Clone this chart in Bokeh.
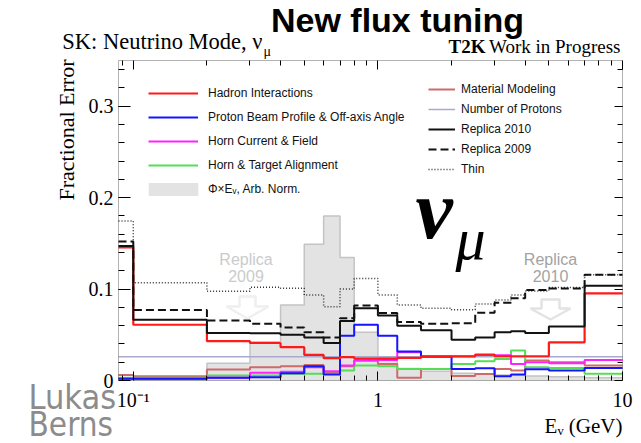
import numpy as np
from bokeh.plotting import figure
from bokeh.models import (Range1d, FixedTicker, LogAxis, LinearAxis, BoxAnnotation,
                          CustomJSTickFormatter, Label, Legend, LegendItem, PolyAnnotation)
from bokeh.embed import file_html
from bokeh.resources import INLINE

# ---- flux binning (GeV) ----
edges = [0.0, 0.1, 0.2, 0.3, 0.4, 0.5, 0.6, 0.7, 0.8, 1.0, 1.2, 1.5,
         2.0, 2.5, 3.0, 3.5, 4.0, 5.0, 7.0, 10.0]

# ---- fractional errors per bin ----
hadron = [0.1455, 0.061, 0.043, 0.041, 0.0364, 0.028, 0.0244, 0.0255, 0.024, 0.024,
          0.0247, 0.026, 0.0265, 0.0284, 0.0265, 0.0265, 0.0265, 0.0418, 0.0953]
proton_beam = [0.002, 0.002, 0.003, 0.0036, 0.008, 0.0156, 0.0065, 0.049, 0.061, 0.049,
               0.0316, 0.0262, 0.0125, 0.0134, 0.0047, 0.0065, 0.0124, 0.011, 0.0138]
horn_current = [0.002, 0.002, 0.003, 0.0085, 0.0095, 0.0145, 0.010, 0.0164, 0.0218, 0.0225,
                0.0309, 0.0262, 0.0262, 0.028, 0.0275, 0.018, 0.020, 0.019, 0.0225]
alignment = [0.003, 0.003, 0.0055, 0.0055, 0.0073, 0.0075, 0.0073, 0.0109, 0.0164, 0.0156,
             0.0127, 0.0127, 0.018, 0.021, 0.0236, 0.0327, 0.0145, 0.0138, 0.0075]
material = [0.006, 0.0047, 0.012, 0.0145, 0.0156, 0.017, 0.0084, 0.0156, 0.0218, 0.018,
            0.003, 0.0127, 0.005, 0.007, 0.0127, 0.011, 0.022, 0.020, 0.0164]
n_protons = [0.026] * 19
replica_2010 = [0.147, 0.0665, 0.052, 0.0516, 0.050, 0.047, 0.041, 0.065, 0.079, 0.071,
                0.060, 0.055, 0.0445, 0.047, 0.0527, 0.054, 0.052, 0.059, 0.1036]
replica_2009 = [0.152, 0.077, 0.0655, 0.062, 0.058, 0.0527, 0.047, 0.068, 0.082, 0.0738,
                0.064, 0.062, 0.0625, 0.074, 0.085, 0.090, 0.099, 0.1007, 0.1156]
thin = [0.1745, 0.107, 0.0975, 0.102, 0.101, 0.0935, 0.0807, 0.100, 0.1116, 0.0935,
        0.0826, 0.079, 0.0775, 0.0836, 0.088, 0.0935, 0.098, 0.1018, 0.1156]
flux_shape = [0.003, 0.001, 0.019, 0.0425, 0.0826, 0.149, 0.18, 0.1345, 0.0527, 0.0255,
              0.013, 0.010, 0.008, 0.007, 0.006, 0.006, 0.005, 0.004, 0.003]

x_major = [0.1, 1.0, 10.0]
x_minor = [0.09, 0.2, 0.3, 0.4, 0.5, 0.6, 0.7, 0.8, 0.9, 2, 3, 4, 5, 6, 7, 8, 9]
x_tick_labels = ["10\u207b\u00b9", "1", "10"]
y_major = [0.0, 0.1, 0.2, 0.3]
y_tick_labels = ["0", "0.1", "0.2", "0.3"]

X_MIN, X_MAX = 0.087, 10.0
Y_MIN, Y_MAX = 0.0, 0.35
W, H = 641, 443
FL, FR, FT, FB = 118, 622, 60, 380   # data box inside the canvas, pixels

SERIF = "Liberation Serif"
SANS = "Liberation Sans"

# The plot frame covers the whole canvas; the data box sits inside it with
# the axes pinned to its edges, so texts outside the box are not clipped.
dec_per_px = (np.log10(X_MAX) - np.log10(X_MIN)) / (FR - FL)
x_lo = 10 ** (np.log10(X_MIN) - FL * dec_per_px)
x_hi = 10 ** (np.log10(X_MAX) + (W - FR) * dec_per_px)
y_per_px = (Y_MAX - Y_MIN) / (FB - FT)
y_lo = Y_MIN - (H - FB) * y_per_px
y_hi = Y_MAX + FT * y_per_px

p = figure(width=W, height=H, x_axis_type="log",
           x_range=Range1d(x_lo, x_hi), y_range=Range1d(y_lo, y_hi),
           output_backend="svg", toolbar_location=None,
           min_border=0, min_border_left=0, min_border_right=0,
           min_border_top=0, min_border_bottom=0)
p.xgrid.visible = False
p.ygrid.visible = False
p.background_fill_color = "white"
p.border_fill_color = "white"
p.outline_line_color = None

xe = np.clip(np.array(edges), X_MIN, None)


def step_xy(vals):
    return list(xe), list(vals) + [vals[-1]]


# flux shape, filled
fx, fy = step_xy(flux_shape)
r_flux = p.varea_step(x=fx, y1=[0] * len(fx), y2=fy, step_mode="after",
                      fill_color="#e3e3e3")
p.step(x=fx, y=fy, mode="after", line_color="#c4c4c4", line_width=1.5)

renderers = {}


def draw(name, vals, color, width=2.0, dash="solid"):
    x, y = step_xy(vals)
    r = p.step(x=x, y=y, mode="after", line_color=color, line_width=width, line_dash=dash)
    renderers[name] = r
    return r


draw("protons", n_protons, "#a9a9d0", 1.5)
draw("material", material, "#cd6b6b", 2.0)
draw("align", alignment, "#55dd55", 2.0)
draw("horn", horn_current, "#ff22ff", 2.0)
draw("beam", proton_beam, "#1515ff", 2.0)
draw("hadron", hadron, "#ff1a1a", 2.2)
draw("thin", thin, "#333333", 1.5, "1 2")
draw("r2009", replica_2009, "#111111", 2.0, "8 4")
draw("r2010", replica_2010, "#111111", 2.0)

# data box outline
p.add_layout(BoxAnnotation(left=X_MIN, right=X_MAX, bottom=Y_MIN, top=Y_MAX,
                           fill_alpha=0, line_color="black", line_width=1, level="overlay"))

# ---- axes pinned to the box ----
x_ticker = FixedTicker(ticks=x_major, minor_ticks=x_minor)
y_ticker = FixedTicker(ticks=y_major, minor_ticks=[round(0.02 * i, 2) for i in range(1, 18)])

xfmt = CustomJSTickFormatter(args=dict(tv=x_major, labs=x_tick_labels), code="""
    let best = 0;
    for (let i = 0; i < tv.length; i++)
        if (Math.abs(Math.log10(tick) - Math.log10(tv[i])) < 0.01) best = i;
    return labs[best];
""")
yfmt = CustomJSTickFormatter(args=dict(tv=y_major, labs=y_tick_labels), code="""
    let best = 0;
    for (let i = 0; i < tv.length; i++)
        if (Math.abs(tick - tv[i]) < 1e-6) best = i;
    return labs[best];
""")
blank = CustomJSTickFormatter(code="return '';")

xa = p.xaxis[0]
xa.ticker = x_ticker
xa.formatter = xfmt
xa.fixed_location = Y_MIN
ya = p.yaxis[0]
ya.ticker = y_ticker
ya.formatter = yfmt
ya.fixed_location = X_MIN

xa.major_tick_in, xa.major_tick_out = 9, 0
xa.minor_tick_in, xa.minor_tick_out = 5, 0
xa.major_label_standoff = 8
ya.major_tick_in, ya.major_tick_out = 12, 0
ya.minor_tick_in, ya.minor_tick_out = 6, 0
ya.major_label_standoff = 5
for ax in (xa, ya):
    ax.axis_line_color = None
    ax.major_tick_line_color = "black"
    ax.minor_tick_line_color = "black"
    ax.major_label_text_font = SERIF
    ax.major_label_text_font_size = "20px"
    ax.major_label_text_color = "black"

top = LogAxis(ticker=x_ticker, formatter=blank, fixed_location=Y_MAX)
right = LinearAxis(ticker=y_ticker, formatter=blank, fixed_location=X_MAX)
top.major_tick_in, top.major_tick_out, top.minor_tick_in, top.minor_tick_out = 9, 0, 5, 0
right.major_tick_in, right.major_tick_out, right.minor_tick_in, right.minor_tick_out = 8, 0, 5, 0
for ax in (top, right):
    ax.major_label_text_font_size = "1px"
    ax.major_label_standoff = 0
    ax.axis_line_color = None
p.add_layout(top, "above")
p.add_layout(right, "right")

# ---- texts, placed by canvas pixels (baseline given) ----
BASE_SHIFT = 0.37   # alphabetic-baseline correction, in em


def text(X, Y, s, size, font=SANS, color="black", style="normal", align="left", angle=0.0):
    if angle:
        X, Y = X - BASE_SHIFT * size, Y
    else:
        X, Y = X, Y - BASE_SHIFT * size
    p.add_layout(Label(x=X, y=H - Y, x_units="screen", y_units="screen", text=s,
                       text_font=font, text_font_size=f"{size}px", text_color=color,
                       text_font_style=style, text_align=align, text_baseline="alphabetic",
                       angle=angle))


text(262, 49, "SK: Neutrino Mode, \u03bd", 22.5, SERIF, align="right")
text(263, 56, "\u03bc", 14, SERIF)
text(397, 32, "New flux tuning", 34, SANS, style="bold", align="center")
text(620, 53, "Work in Progress", 19, SERIF, align="right")
text(485, 53, "T2K", 19, SERIF, style="bold", align="right")
text(74, 59, "Fractional Error", 22, SERIF, align="right", angle=np.pi / 2)
text(622, 433, "E\u1d65 (GeV)", 21, SERIF, align="right")

text(415, 240, "\u03bd", 84, SERIF, style="bold italic")
text(455, 261, "\u03bc", 60, SERIF, style="italic")

text(245.5, 265, "Replica", 16, SANS, color="#cbcbcb", align="center")
text(245.5, 281, "2009", 16, SANS, color="#cbcbcb", align="center")
text(550, 265, "Replica", 16, SANS, color="#a3a3a3", align="center")
text(550, 281, "2010", 16, SANS, color="#a3a3a3", align="center")

NARROW = "'Liberation Sans Narrow', 'DejaVu Sans Condensed', 'Roboto Condensed', 'Liberation Sans'"
text(28, 409, "Lukas", 34, NARROW, color="#8c8c8c")
text(28, 436, "Berns", 33, NARROW, color="#8c8c8c")

# outlined arrows under the replica tags
arrow_2009 = [(239, 296), (255, 296), (255, 306), (268, 306), (247, 318), (226, 306), (239, 306)]
arrow_2010 = [(541, 299), (559, 299), (559, 308), (570, 308), (550, 319), (530, 308), (541, 308)]
for pts, col in ((arrow_2009, "#cbcbcb"), (arrow_2010, "#a3a3a3")):
    p.add_layout(PolyAnnotation(xs=[a for a, b in pts], ys=[H - b for a, b in pts],
                                xs_units="screen", ys_units="screen",
                                fill_alpha=0, line_color=col, line_width=2.5))


# ---- legends ----
def legend(items, x0, top_y, row_h, glyph_w, standoff):
    lg = Legend(items=items, location=(x0, H - (top_y + row_h * len(items))),
                glyph_width=glyph_w, glyph_height=row_h, label_height=row_h - 2,
                label_standoff=standoff, spacing=0, padding=0, margin=0,
                border_line_alpha=0, background_fill_alpha=0,
                label_text_font=SANS, label_text_font_size="12px",
                label_text_color="#111111")
    p.add_layout(lg)


legend([LegendItem(label="Hadron Interactions", renderers=[renderers["hadron"]]),
        LegendItem(label="Proton Beam Profile & Off-axis Angle", renderers=[renderers["beam"]]),
        LegendItem(label="Horn Current & Field", renderers=[renderers["horn"]]),
        LegendItem(label="Horn & Target Alignment", renderers=[renderers["align"]])],
       148, 81, 24, 50, 10)
legend([LegendItem(label="\u03a6\u00d7E\u1d65, Arb. Norm.", renderers=[r_flux])],
       142, 181, 16, 62, 4)
legend([LegendItem(label="Material Modeling", renderers=[renderers["material"]]),
        LegendItem(label="Number of Protons", renderers=[renderers["protons"]]),
        LegendItem(label="Replica 2010", renderers=[renderers["r2010"]]),
        LegendItem(label="Replica 2009", renderers=[renderers["r2009"]]),
        LegendItem(label="Thin", renderers=[renderers["thin"]])],
       428, 79, 20, 27, 6)

open("out.html", "w").write(file_html(p, INLINE))
